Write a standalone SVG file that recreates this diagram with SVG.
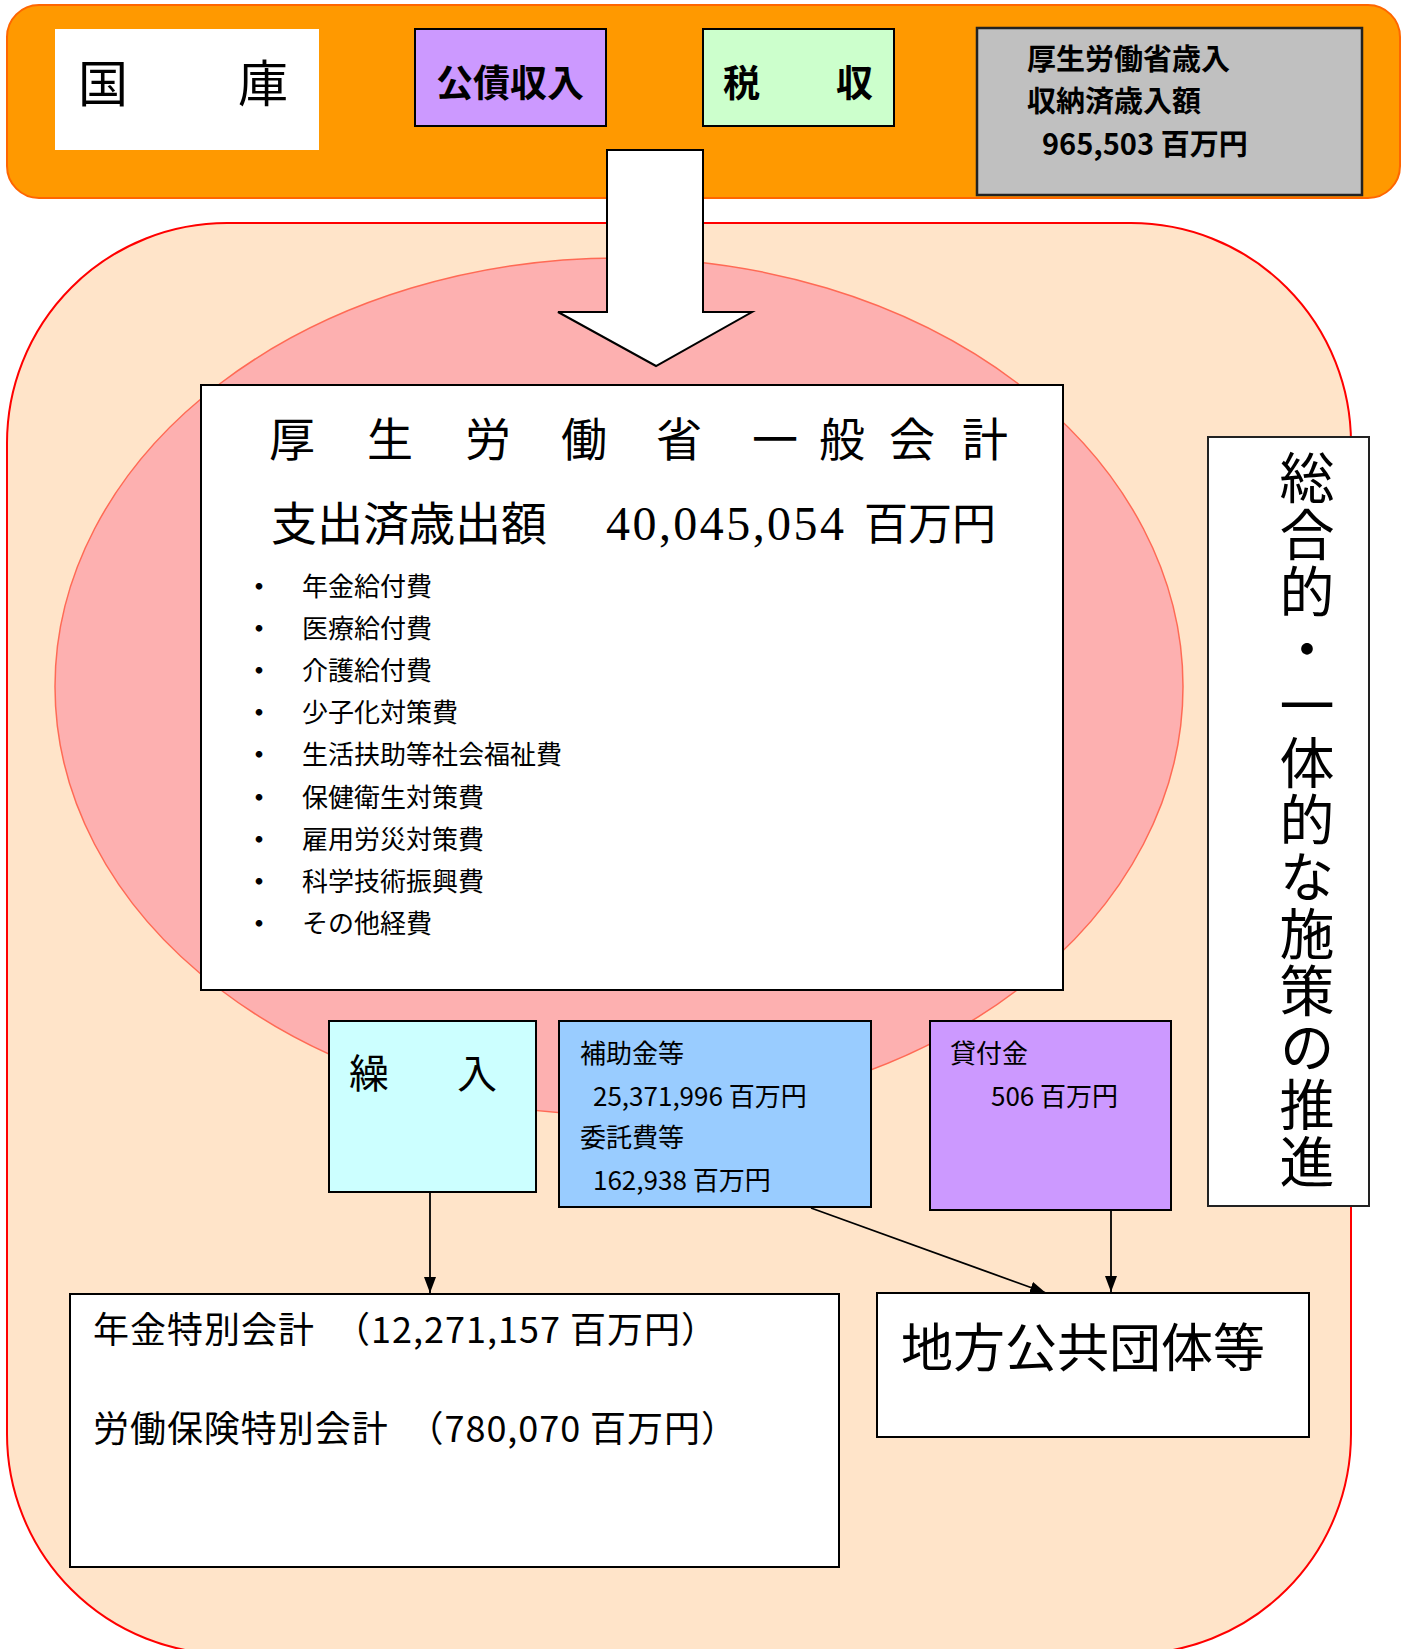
<svg xmlns="http://www.w3.org/2000/svg" width="1408" height="1649" viewBox="0 0 1408 1649">
<style>
.box{stroke:#000;stroke-width:2}
.jp{font-family:"Noto Sans CJK JP","Liberation Sans",sans-serif;fill:#000}
.jps{font-family:"Liberation Serif","Noto Sans CJK JP",serif;fill:#000}
.b{font-weight:bold}
.conn{stroke:#000;stroke-width:1.8;fill:none}
.bul{font-weight:bold}
</style>
<defs>
<marker id="ah" markerUnits="userSpaceOnUse" markerWidth="16" markerHeight="12" refX="16" refY="6" orient="auto">
<path d="M0,0 L16,6 L0,12 z" fill="#000"/>
</marker>
</defs>
<g id="background">
<rect id="national-treasury-band" x="7" y="5" width="1393" height="193" rx="32" ry="32" fill="#FF9900" stroke="#FF6600" stroke-width="2"/>
<rect id="ministry-area" x="7" y="223" width="1344" height="1431" rx="220" ry="220" fill="#FFE4C9" stroke="#FF0000" stroke-width="2"/>
<ellipse id="general-account-ellipse" cx="619" cy="686.5" rx="564" ry="428.5" fill="#FDB0B0" stroke="#FF6A55" stroke-width="1.5"/>
</g>
<g id="kokko">
<rect x="55" y="29" width="264" height="121" fill="#FFFFFF"/>
<text class="jp" font-size="50" x="78" y="102">国</text>
<text class="jp" font-size="50" x="238" y="102">庫</text>
</g>
<g id="kosai">
<rect class="box" x="415" y="29" width="191" height="97" fill="#CC99FF"/>
<text class="jp b" font-size="37" x="436" y="97">公債収入</text>
</g>
<g id="zeishu">
<rect class="box" x="703" y="29" width="191" height="97" fill="#CCFFCC"/>
<text class="jp b" font-size="37" x="723" y="97">税</text>
<text class="jp b" font-size="37" x="836" y="97">収</text>
</g>
<g id="revenue">
<rect x="977" y="28" width="385" height="167" fill="#C0C0C0" stroke="#222" stroke-width="2.5"/>
<text class="jp b" font-size="29" x="1027" y="70">厚生労働省歳入</text>
<text class="jp b" font-size="29" x="1027" y="112">収納済歳入額</text>
<text class="jp b" font-size="29" x="1042" y="155">965,503 百万円</text>
</g>
<g id="big-arrow">
<polygon points="607,150 703,150 703,312 752,312 656,366 558,312 607,312" fill="#FFFFFF" stroke="#000" stroke-width="2"/>
</g>
<g id="general-account">
<rect class="box" x="201" y="385" width="862" height="605" fill="#FFFFFF"/>
<text class="jp" font-size="46" x="269 367 465 561 656 752 819 889 962" y="456">厚生労働省一般会計</text>
<text class="jp" font-size="46" x="271" y="540">支出済歳出額</text>
<text class="jps" font-size="48" x="606" y="540" textLength="238" lengthAdjust="spacing">40,045,054</text>
<text class="jp" font-size="44" x="864" y="540">百万円</text>
<g font-size="26" class="jp">
<text class="bul" x="259" y="596" text-anchor="middle">・</text><text x="302" y="596">年金給付費</text>
<text class="bul" x="259" y="638" text-anchor="middle">・</text><text x="302" y="638">医療給付費</text>
<text class="bul" x="259" y="680" text-anchor="middle">・</text><text x="302" y="680">介護給付費</text>
<text class="bul" x="259" y="722" text-anchor="middle">・</text><text x="302" y="722">少子化対策費</text>
<text class="bul" x="259" y="764" text-anchor="middle">・</text><text x="302" y="764">生活扶助等社会福祉費</text>
<text class="bul" x="259" y="807" text-anchor="middle">・</text><text x="302" y="807">保健衛生対策費</text>
<text class="bul" x="259" y="849" text-anchor="middle">・</text><text x="302" y="849">雇用労災対策費</text>
<text class="bul" x="259" y="891" text-anchor="middle">・</text><text x="302" y="891">科学技術振興費</text>
<text class="bul" x="259" y="933" text-anchor="middle">・</text><text x="302" y="933">その他経費</text>
</g>
</g>
<g id="promotion">
<rect x="1208" y="437" width="161" height="769" fill="#FFFFFF" stroke="#222" stroke-width="2"/>
<text class="jp" font-size="55" x="1307" y="450" writing-mode="vertical-rl" letter-spacing="2">総合的・一体的な施策の推進</text>
</g>
<g id="kurire">
<rect class="box" x="329" y="1021" width="207" height="171" fill="#CCFFFF"/>
<text class="jp" font-size="40" x="349" y="1088">繰</text>
<text class="jp" font-size="40" x="457" y="1088">入</text>
</g>
<g id="hojokin">
<rect class="box" x="559" y="1021" width="312" height="186" fill="#99CCFF"/>
<g class="jp" font-size="26">
<text x="580" y="1063">補助金等</text>
<text x="593" y="1106">25,371,996 百万円</text>
<text x="580" y="1147">委託費等</text>
<text x="593" y="1190">162,938 百万円</text>
</g>
</g>
<g id="kashitsuke">
<rect class="box" x="930" y="1021" width="241" height="189" fill="#CC99FF"/>
<g class="jp" font-size="26">
<text x="950" y="1063">貸付金</text>
<text x="991" y="1106">506 百万円</text>
</g>
</g>
<g id="special-accounts">
<rect class="box" x="70" y="1294" width="769" height="273" fill="#FFFFFF"/>
<text class="jp" font-size="36" x="93" y="1343" textLength="624" lengthAdjust="spacing">年金特別会計　（12,271,157 百万円）</text>
<text class="jp" font-size="36" x="93" y="1442" textLength="644" lengthAdjust="spacing">労働保険特別会計　（780,070 百万円）</text>
</g>
<g id="local-governments">
<rect class="box" x="877" y="1293" width="432" height="144" fill="#FFFFFF"/>
<text class="jp" font-size="52" x="901" y="1367">地方公共団体等</text>
</g>
<g id="connectors">
<line class="conn" x1="430" y1="1192" x2="430" y2="1293" marker-end="url(#ah)"/>
<line class="conn" x1="811" y1="1208" x2="1046" y2="1293" marker-end="url(#ah)"/>
<line class="conn" x1="1111" y1="1210" x2="1111" y2="1292" marker-end="url(#ah)"/>
</g>
</svg>
